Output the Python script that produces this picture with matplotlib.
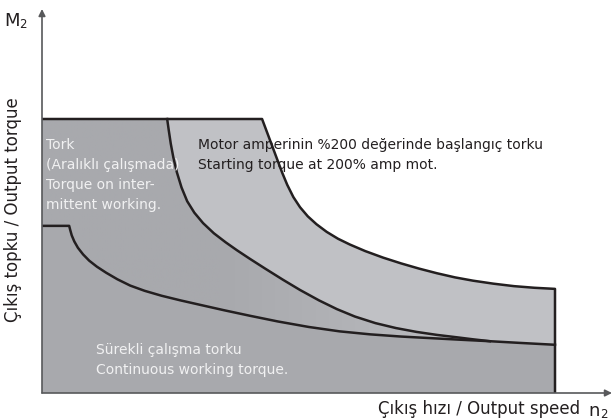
import numpy as np
import matplotlib
matplotlib.use("Agg")
import matplotlib.pyplot as plt
from matplotlib.patches import Polygon

# Torque / speed curves (speed n2 in % of max, torque M2 in % of peak)
start_n = [42.9, 43.5, 44.2, 45.0, 45.9, 46.8, 47.8, 49.0, 50.3, 51.8, 53.5, 55.5, 57.7, 60.0,
           63.0, 66.5, 70.0, 73.5, 77.0, 80.5, 84.0, 88.0, 92.0, 96.0, 100.0]
start_m = [100.0, 97.0, 93.5, 89.5, 85.0, 80.5, 76.0, 71.5, 67.8, 64.5, 61.6, 58.8, 56.3, 54.2,
           51.8, 49.4, 47.3, 45.4, 43.7, 42.2, 41.0, 39.9, 39.0, 38.4, 38.0]

inter_n = [24.4, 24.7, 25.1, 25.6, 26.3, 27.2, 28.3, 29.7, 31.4, 33.5, 35.8, 38.0, 40.5, 43.5,
           47.0, 50.3, 54.0, 57.5, 61.0, 65.0, 69.0, 73.0, 77.0, 81.0, 84.0, 87.3]
inter_m = [100.0, 96.0, 91.0, 86.0, 80.5, 75.0, 70.0, 65.8, 62.0, 58.3, 55.0, 52.1, 49.0, 45.4,
           41.3, 37.6, 33.8, 30.6, 27.9, 25.5, 23.7, 22.3, 21.2, 20.3, 19.6, 18.9]

cont_n = [0.0, 5.3, 5.5, 5.8, 6.3, 7.0, 8.0, 9.2, 10.7, 12.5, 14.7, 17.2, 20.0, 23.3, 27.0,
          31.0, 35.5, 40.5, 46.0, 52.0, 58.0, 64.0, 70.0, 76.0, 82.0, 87.3, 93.0, 100.0]
cont_m = [61.0, 61.0, 59.5, 57.5, 55.3, 53.0, 50.6, 48.3, 46.1, 43.9, 41.5, 39.2, 37.3, 35.5, 33.8,
          32.1, 30.2, 28.2, 26.1, 24.1, 22.5, 21.4, 20.6, 20.0, 19.4, 18.9, 18.3, 17.6]

top_m = 100.0
n_max = 100.0

LINE = "#231f20"
LIGHT = "#c0c1c5"
DARK = "#a8a9ad"

W, H = 614, 420


def px(x, y):
    # pixel position -> figure fraction
    return x / W, 1 - y / H


fig = plt.figure(figsize=(W / 100, H / 100), dpi=100)
# axes origin at pixel (42, 393); 5.13 px per speed unit, 2.74 px per torque unit
ax = fig.add_axes([42 / W, (H - 393) / H, (W - 42) / W, 393 / H])
ax.set_xlim(0, (W - 42) / 5.13)
ax.set_ylim(0, 393 / 2.74)
ax.axis("off")

# light region: whole envelope of the starting torque
env_x = [0, 0] + start_n + [n_max]
env_y = [0, top_m] + start_m + [0]
ax.add_patch(Polygon(np.column_stack([env_x, env_y]), closed=True, fc=LIGHT, ec="none"))

# dark region: under intermittent curve, then continuous curve
i_merge = cont_n.index(inter_n[-1])
dk_x = [0, 0] + inter_n + cont_n[i_merge + 1:] + [n_max]
dk_y = [0, top_m] + inter_m + cont_m[i_merge + 1:] + [0]
ax.add_patch(Polygon(np.column_stack([dk_x, dk_y]), closed=True, fc=DARK, ec="none"))

# band between intermittent and continuous curve gets lighter to the right
band_x = [0, 0] + inter_n + cont_n[:i_merge + 1][::-1]
band_y = [cont_m[0], top_m] + inter_m + cont_m[:i_merge + 1][::-1]
band = Polygon(np.column_stack([band_x, band_y]), closed=True, fc="none", ec="none")
ax.add_patch(band)
c0 = np.array(matplotlib.colors.to_rgb(DARK))
c1 = np.array(matplotlib.colors.to_rgb("#bdbec2"))
t = np.clip((np.linspace(0, n_max, 200) - 35) / 55, 0, 1)
grad = c0[None, :] * (1 - t[:, None]) + c1[None, :] * t[:, None]
im = ax.imshow(grad[None, :, :], extent=[0, n_max, 0, top_m], aspect="auto", zorder=1.5)
im.set_clip_path(band)

# outlines
lw = 1.8
ax.plot([0] + start_n + [n_max, n_max], [top_m] + start_m + [start_m[-1], 0],
        color=LINE, lw=lw, solid_joinstyle="round", zorder=3)
ax.plot(inter_n, inter_m, color=LINE, lw=lw, solid_joinstyle="round", zorder=3)
ax.plot(cont_n, cont_m, color=LINE, lw=lw, solid_joinstyle="round", zorder=3)

# axes with arrows
arrow = dict(arrowstyle="-|>", color="#58595b", lw=1.2, mutation_scale=10, shrinkA=0, shrinkB=0)
ax.annotate("", xy=(0, (393 - 9) / 2.74), xytext=(0, 0), arrowprops=arrow, zorder=4)
ax.annotate("", xy=((612 - 42) / 5.13, 0), xytext=(0, 0), arrowprops=arrow, zorder=4)

fs = 10
fig.text(*px(4, 21), "M", fontsize=13, color=LINE, va="center", ha="left")
fig.text(*px(19, 24), "2", fontsize=8.5, color=LINE, va="center", ha="left")
fig.text(*px(588, 411), "n", fontsize=13, color=LINE, va="center", ha="left")
fig.text(*px(600, 414), "2", fontsize=8.5, color=LINE, va="center", ha="left")
fig.text(*px(580, 409), "Çıkış hızı / Output speed", fontsize=12, color=LINE, va="center", ha="right")
fig.text(*px(13, 210), "Çıkış topku / Output torque", fontsize=12, color=LINE,
         va="center", ha="center", rotation=90)

white_lines = ["Tork", "(Aralıklı çalışmada)", "Torque on inter-", "mittent working."]
for k, s in enumerate(white_lines):
    fig.text(*px(46, 145 + 20 * k), s, fontsize=fs, color="#f1f1f2", va="center", ha="left", zorder=5)

dark_lines = ["Motor amperinin %200 değerinde başlangıç torku", "Starting torque at 200% amp mot."]
for k, s in enumerate(dark_lines):
    fig.text(*px(198, 145 + 20 * k), s, fontsize=fs, color=LINE, va="center", ha="left", zorder=5)

cont_lines = ["Sürekli çalışma torku", "Continuous working torque."]
for k, s in enumerate(cont_lines):
    fig.text(*px(96, 350 + 20 * k), s, fontsize=fs, color="#f1f1f2", va="center", ha="left", zorder=5)

fig.savefig("out.png", dpi=100)
